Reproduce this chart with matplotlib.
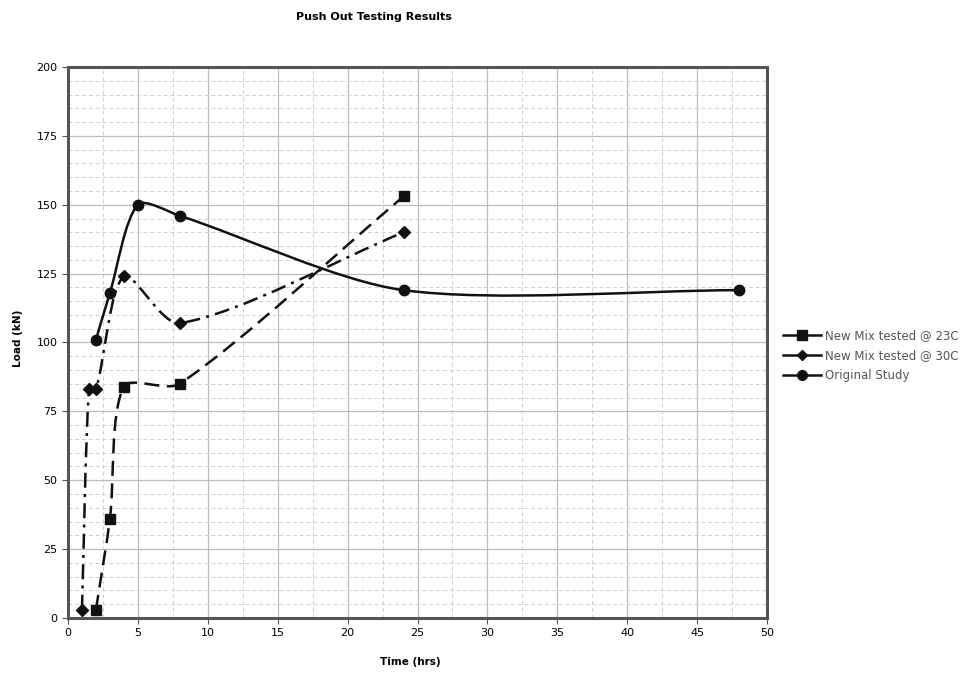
import numpy as np
import matplotlib
matplotlib.use("Agg")
import matplotlib.pyplot as plt
from matplotlib.path import Path
from matplotlib.patches import PathPatch
from matplotlib.lines import Line2D

# data
t_23 = [2, 3, 4, 8, 24]
load_23 = [3, 36, 84, 85, 153]

t_30 = [1, 1.5, 2, 4, 8, 24]
load_30 = [3, 83, 83, 124, 107, 140]

t_orig = [2, 3, 5, 8, 24, 48]
load_orig = [101, 118, 150, 146, 119, 119]

labels = ["New Mix tested @ 23C", "New Mix tested @ 30C", "Original Study"]


def smooth_path(ax, x, y, t=0.28):
    # Excel-like smoothed line, worked out in screen space
    pts = ax.transData.transform(np.column_stack([x, y]).astype(float))
    n = len(pts)
    ca, cb = [None] * n, [None] * n
    for i in range(n):
        p0 = pts[i - 1] if i > 0 else pts[i]
        p2 = pts[i + 1] if i < n - 1 else pts[i]
        d01 = np.hypot(*(pts[i] - p0))
        d12 = np.hypot(*(p2 - pts[i]))
        s = d01 + d12
        fa = t * d01 / s if s else 0
        fb = t * d12 / s if s else 0
        ca[i] = pts[i] - fa * (p2 - p0)
        cb[i] = pts[i] + fb * (p2 - p0)
    verts = [pts[0]]
    codes = [Path.MOVETO]
    for i in range(n - 1):
        verts += [cb[i], ca[i + 1], pts[i + 1]]
        codes += [Path.CURVE4] * 3
    verts = ax.transData.inverted().transform(np.array(verts))
    return Path(verts, codes)


fig = plt.figure(figsize=(9.6, 6.77), dpi=100)
ax = fig.add_axes([0.0708, 0.0872, 0.7282, 0.8138])
ax.set_xlim(0, 50)
ax.set_ylim(0, 200)

series = [
    (t_23, load_23, "s", (0, (6, 3))),
    (t_30, load_30, "D", (0, (6, 2.5, 1.2, 2.5))),
    (t_orig, load_orig, "o", "-"),
]
for x, y, m, ls in series:
    ax.add_patch(PathPatch(smooth_path(ax, x, y), fill=False, edgecolor="#111111",
                           lw=1.8, linestyle=ls, zorder=3))
    ms = 6 if m == "D" else 7.5
    ax.plot(x, y, linestyle="none", marker=m, ms=ms, color="#111111", zorder=4)

ax.set_xticks(np.arange(0, 51, 5))
ax.set_yticks(np.arange(0, 201, 25))
ax.set_xticks(np.arange(0, 50.1, 2.5), minor=True)
ax.set_yticks(np.arange(0, 201, 5), minor=True)
ax.grid(which="major", color="#bdbdbd", lw=0.9)
ax.grid(which="minor", color="#cfcfcf", lw=0.7, linestyle=(0, (4, 3)))
ax.set_axisbelow(True)
ax.tick_params(which="major", labelsize=8, length=4, direction="out", color="#555555")
ax.tick_params(which="minor", length=0)
for s in ax.spines.values():
    s.set_linewidth(2.2)
    s.set_color("#555555")

fig.text(0.39, 0.975, "Push Out Testing Results", ha="center", va="center",
         fontsize=8, fontweight="bold")
fig.text(0.019, 0.5, "Load (kN)", ha="center", va="center", rotation=90,
         fontsize=7.5, fontweight="bold")
fig.text(0.427, 0.022, "Time (hrs)", ha="center", va="center",
         fontsize=7.5, fontweight="bold")

handles = [
    Line2D([], [], color="#111111", lw=1.8, marker="s", ms=7),
    Line2D([], [], color="#111111", lw=1.8, marker="D", ms=5),
    Line2D([], [], color="#111111", lw=1.8, marker="o", ms=7),
]
fig.legend(handles, labels, loc="center left", bbox_to_anchor=(0.805, 0.475),
           frameon=False, fontsize=8.5, handlelength=3.2, handletextpad=0.3,
           labelspacing=0.6, labelcolor="#555555")

plt.savefig("out.png", dpi=100)
